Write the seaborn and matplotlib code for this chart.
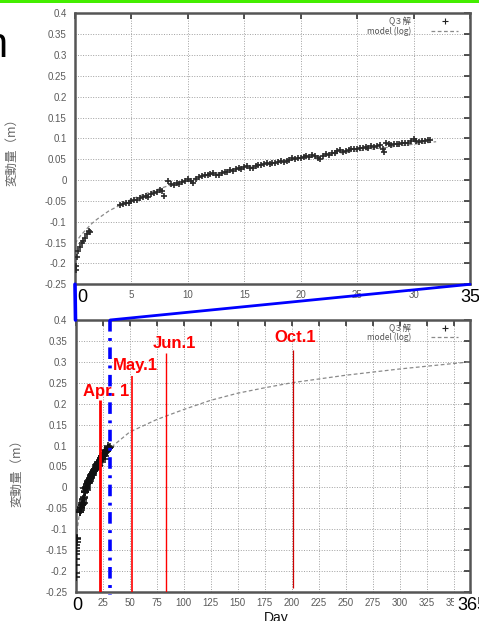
import numpy as np
import pandas as pd
import matplotlib
matplotlib.use("Agg")
import matplotlib.pyplot as plt
from matplotlib.lines import Line2D
from matplotlib.patches import Rectangle, ConnectionPatch
import seaborn as sns

# ---------------- data ----------------
early_day = [0.05, 0.1, 0.2, 0.3, 0.45, 0.6, 0.75, 0.9, 1.05, 1.2, 1.35]
early_val = [-0.215, -0.205, -0.185, -0.170, -0.160, -0.152, -0.145, -0.138, -0.130, -0.122, -0.124]

obs_day = [4.00, 4.25, 4.50, 4.75, 5.00, 5.25, 5.50, 5.75, 6.00, 6.25, 6.50, 6.75,
           7.00, 7.25, 7.50, 7.75, 7.90, 8.25, 8.50, 8.75, 9.00, 9.25, 9.50, 9.75,
           10.00, 10.25, 10.50, 10.75, 11.00, 11.25, 11.50, 11.75, 12.00, 12.25, 12.50, 12.75,
           13.00, 13.25, 13.50, 13.75, 14.00, 14.25, 14.50, 14.75, 15.00, 15.25, 15.50, 15.75,
           16.00, 16.25, 16.50, 16.75, 17.00, 17.25, 17.50, 17.75, 18.00, 18.25, 18.50, 18.75,
           19.00, 19.25, 19.50, 19.75, 20.00, 20.25, 20.50, 20.75, 21.00, 21.25, 21.50, 21.75,
           22.00, 22.25, 22.50, 22.75, 23.00, 23.25, 23.50, 23.75, 24.00, 24.25, 24.50, 24.75,
           25.00, 25.25, 25.50, 25.75, 26.00, 26.25, 26.50, 26.75, 27.00, 27.25, 27.40, 27.60,
           27.85, 28.00, 28.25, 28.50, 28.75, 29.00, 29.25, 29.50, 29.75, 30.00, 30.25, 30.50,
           30.75, 31.00, 31.25, 31.50]
obs_val = [-0.060, -0.058, -0.054, -0.055, -0.050, -0.048, -0.049, -0.043, -0.041, -0.038, -0.040, -0.034,
           -0.031, -0.028, -0.024, -0.026, -0.038, -0.002, -0.010, -0.012, -0.008, -0.010, -0.004, -0.002,
           0.002, -0.002, -0.006, 0.003, 0.008, 0.010, 0.012, 0.011, 0.015, 0.017, 0.013, 0.011,
           0.016, 0.020, 0.019, 0.023, 0.022, 0.026, 0.029, 0.027, 0.031, 0.033, 0.030, 0.029,
           0.034, 0.037, 0.035, 0.038, 0.040, 0.039, 0.042, 0.041, 0.043, 0.045, 0.044, 0.046,
           0.049, 0.053, 0.050, 0.052, 0.054, 0.055, 0.057, 0.056, 0.060, 0.058, 0.054, 0.051,
           0.058, 0.062, 0.061, 0.064, 0.066, 0.069, 0.071, 0.068, 0.070, 0.072, 0.074, 0.075,
           0.074, 0.076, 0.078, 0.079, 0.078, 0.081, 0.080, 0.082, 0.083, 0.074, 0.068, 0.090,
           0.087, 0.085, 0.086, 0.087, 0.086, 0.088, 0.089, 0.090, 0.093, 0.099, 0.094, 0.091,
           0.093, 0.094, 0.095, 0.097]

model_day = [0, 0.5, 1, 1.5, 2, 3, 4, 5, 6, 8, 10, 12, 15, 20, 25, 30, 32, 35, 50, 75,
             100, 125, 150, 175, 200, 250, 300, 365]
model_val = [-0.152, -0.133, -0.118, -0.104, -0.093, -0.074, -0.060, -0.046, -0.035, -0.016,
             0.0, 0.013, 0.030, 0.052, 0.070, 0.086, 0.092, 0.100, 0.132, 0.162,
             0.186, 0.208, 0.225, 0.238, 0.250, 0.268, 0.283, 0.300]

yticks = [-0.25, -0.2, -0.15, -0.1, -0.05, 0, 0.05, 0.1, 0.15, 0.2, 0.25, 0.3, 0.35, 0.4]
top_xticks = [0, 5, 10, 15, 20, 25, 30, 35]
top_xticklabels = ["", "5", "10", "15", "20", "25", "30", ""]
bot_xticks = [0, 25, 50, 75, 100, 125, 150, 175, 200, 225, 250, 275, 300, 325, 350]
bot_xticklabels = ["", "25", "50", "75", "100", "125", "150", "175", "200", "225", "250",
                   "275", "300", "325", "350"]

event_names = ["Apr. 1", "May.1", "Jun.1", "Oct.1"]
event_day = [22.5, 52.5, 83.5, 201]
event_top = [0.21, 0.265, 0.32, 0.328]
event_bottom = [-0.25, -0.25, -0.25, -0.24]
event_label_day = [6.6, 35, 71, 184]
event_label_y = [0.23, 0.292, 0.345, 0.357]
boundary_day = 32

ylabel_text = "変動量（m）"
legend_obs = "Q３解"
legend_model = "model (log)"

# ---------------- style ----------------
sns.set_style("white")
plt.rcParams["font.family"] = ["Liberation Sans", "Noto Sans CJK JP", "DejaVu Sans"]

obs = pd.DataFrame({"day": early_day + obs_day, "val": early_val + obs_val})
model = pd.DataFrame({"day": model_day, "val": model_val})

fig = plt.figure(figsize=(4.79, 6.21), dpi=100)
fig.patch.set_facecolor("white")
ax1 = fig.add_axes([75 / 479, 1 - 284.3 / 621, 395 / 479, 271 / 621])
ax2 = fig.add_axes([75.5 / 479, 1 - 592 / 621, 394.5 / 479, 272 / 621])

tick_color = "#5a5a5a"
cjk = ["Noto Sans CJK JP", "DejaVu Sans"]


def style_axes(ax, xlim, xticks, xticklabels):
    ax.set_xlim(*xlim)
    ax.set_ylim(-0.25, 0.4)
    ax.set_xticks(xticks)
    ax.set_xticklabels(xticklabels)
    ax.set_yticks(yticks)
    ax.set_yticklabels([f"{v:g}" for v in yticks])
    ax.grid(True, color="#a0a0a0", linestyle=(0, (1, 1.6)), linewidth=0.7)
    ax.tick_params(direction="in", length=4, width=1.2, color="#333333",
                   top=True, right=True, labelsize=7, labelcolor=tick_color)
    ax.tick_params(axis="y", pad=6)
    ax.tick_params(axis="x", pad=4)
    for s in ax.spines.values():
        s.set_color("#555555")
        s.set_linewidth(1.8)
    ax.set_xlabel("")
    ax.set_ylabel(ylabel_text, family=cjk, color="#666666", fontsize=9)


# top plot
sns.lineplot(data=model[model["day"] <= 32], x="day", y="val", ax=ax1, color="#8a8a8a",
             linestyle=(0, (3, 2)), linewidth=0.9, sort=True, zorder=2)
sns.scatterplot(data=obs, x="day", y="val", ax=ax1, marker="+", s=18, color="#2a2a2a",
                linewidth=1.2, zorder=3)
style_axes(ax1, (0, 35), top_xticks, top_xticklabels)
ax1.yaxis.set_label_coords(-0.144, 0.5)

# bottom plot
sns.lineplot(data=model, x="day", y="val", ax=ax2, color="#8a8a8a",
             linestyle=(0, (3, 2)), linewidth=0.9, sort=True, zorder=2)
sns.scatterplot(data=obs, x="day", y="val", ax=ax2, marker="+", s=26, color="#111111",
                linewidth=1.1, zorder=3)
style_axes(ax2, (0, 365), bot_xticks, bot_xticklabels)
ax2.yaxis.set_label_coords(-0.132, 0.45)
ax2.set_xlabel("Day", fontsize=10, color="#111111")
ax2.xaxis.set_label_coords(0.508, -0.07)
ax2.xaxis.label.set_va("top")

# legends
for ax in (ax1, ax2):
    handles = [Line2D([], [], marker="+", color="#222222", linestyle="none",
                      markersize=4, markeredgewidth=0.8),
               Line2D([], [], color="#8a8a8a", linestyle=(0, (3, 2)), linewidth=0.9)]
    leg = ax.legend(handles, [legend_obs, legend_model], loc="upper right",
                    bbox_to_anchor=(0.982, 1.005), frameon=False, markerfirst=False,
                    fontsize=6, handlelength=3.2, handletextpad=2.4,
                    labelspacing=0.02, borderaxespad=0.2)
    for t in leg.get_texts():
        t.set_color("#555555")
        t.set_family(cjk)

# events in bottom plot
for name, d, top, bot, lx, ly, lw, col in zip(
        event_names, event_day, event_top, event_bottom, event_label_day, event_label_y,
        [2.0, 1.2, 1.0, 0.9], ["#ff0000", "#ff0000", "#ff0000", "#cc0000"]):
    ax2.plot([d, d], [bot, top], color=col, linewidth=lw, zorder=4, solid_capstyle="butt")
    ax2.text(lx, ly, name, color="#ff0000", fontsize=12, fontweight="bold",
             ha="left", va="center", zorder=6)

ax2.plot([boundary_day, boundary_day], [0.4, -0.258], color="#0000ff", linewidth=2.6,
         linestyle=(0, (3.2, 1.8, 0.8, 1.8)), clip_on=False, zorder=5)

# connector lines between the plots
con1 = ConnectionPatch(xyA=(0, -0.25), coordsA=ax1.transData,
                       xyB=(0, 0.4), coordsB=ax2.transData,
                       color="#0000ff", linewidth=2.6)
con2 = ConnectionPatch(xyA=(35, -0.25), coordsA=ax1.transData,
                       xyB=(boundary_day, 0.4), coordsB=ax2.transData,
                       color="#0000ff", linewidth=2.0)
fig.add_artist(con1)
fig.add_artist(con2)

# big axis annotations
big = dict(fontsize=13, color="black", zorder=7)
ax1.text(0.018, -0.05, "0", transform=ax1.transAxes, ha="center", va="center", **big)
ax1.text(0.975, -0.05, "35", transform=ax1.transAxes, ha="left", va="center", **big)
ax2.text(0.004, -0.051, "0", transform=ax2.transAxes, ha="center", va="center", **big)
ax2.text(0.967, -0.051, "365", transform=ax2.transAxes, ha="left", va="center",
         bbox=dict(facecolor="white", edgecolor="none", pad=2.5), **big)

# slide decorations
fig.add_artist(Rectangle((0, 1 - 3 / 621), 1, 3 / 621, transform=fig.transFigure,
                         facecolor="#44ee00", edgecolor="none"))
fig.text(7 / 479, 1 - 57 / 621, "n", fontsize=30, ha="right", va="baseline", color="black")

fig.savefig("out.png", dpi=100)
